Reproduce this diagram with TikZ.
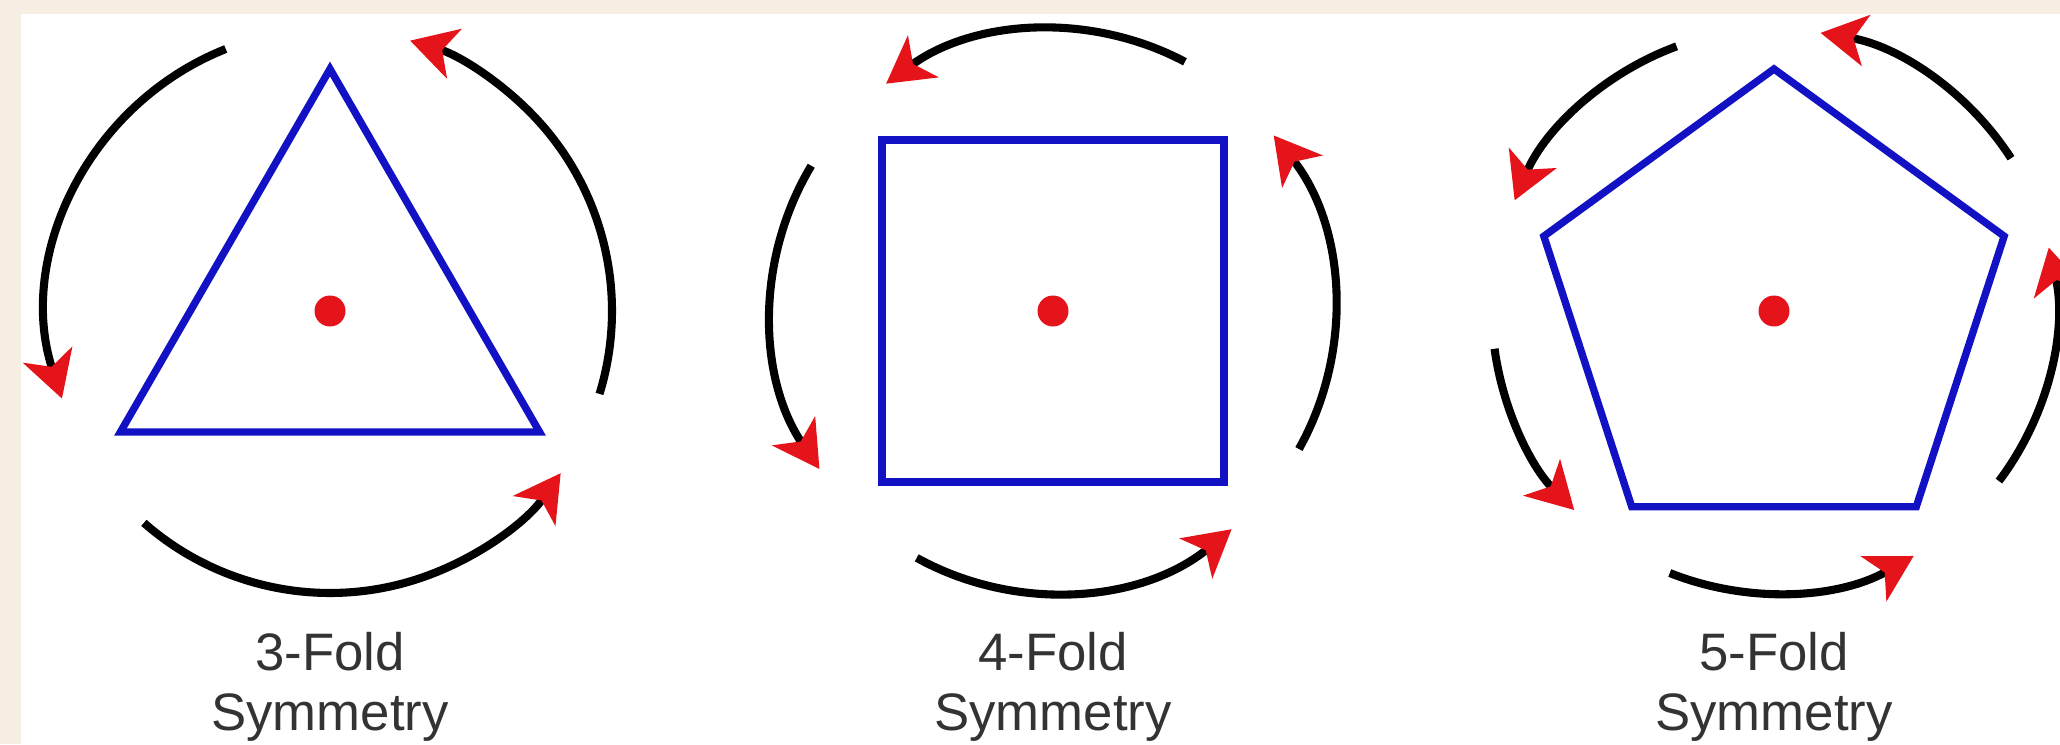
\documentclass[tikz,border=0pt]{standalone}
\usepackage{fontspec}
\setmainfont{Liberation Sans}
\usetikzlibrary{arrows.meta, shapes.geometric}
\definecolor{paper}{HTML}{F8EFE4}
\definecolor{polyblue}{HTML}{1212C4}
\definecolor{tipred}{HTML}{E5141B}
\definecolor{labelgray}{HTML}{333333}

\begin{document}
\begin{tikzpicture}[
  turn/.style={line width=2.3pt, -{Stealth[length=13pt, width=14.5pt, inset=3.5pt, tipred]}},
  poly/.style={regular polygon, draw=polyblue, line width=2.1pt, minimum size=4.84cm, inner sep=0pt},
  hub/.style={circle, fill=tipred, minimum size=0.31cm, inner sep=0pt},
  caption/.style={anchor=north, inner sep=0pt, align=center, text=labelgray, font=\fontsize{15pt}{17pt}\selectfont}]
  % Background and panel
  \clip (0,0) rectangle (20.6,7.44);
  \fill[paper] (0,0) rectangle (20.6,7.44);
  \fill[white] (0.21,0) rectangle (20.6,7.30);

  % Rotation centres
  \coordinate (c3) at (3.30,4.33);
  \coordinate (c4) at (10.53,4.33);
  \coordinate (c5) at (17.74,4.33);

  % 3-fold
  \node[poly, regular polygon sides=3] (tri) at (c3) {};
  \node[hub] (h3) at (c3) {};
  \foreach \s/\e in {111.7/198.1, 228.7/324.9, 342.9/433.5}
    \draw[turn] ([shift={(\s:2.82)}]c3) arc[start angle=\s, end angle=\e, radius=2.82];
  \node[caption] (cap3) at (3.30,1.12) {3-Fold\\Symmetry};

  % 4-fold
  \node[poly, regular polygon sides=4] (sq) at (c4) {};
  \node[hub] (h4) at (c4) {};
  \foreach \s/\e in {62.1/126.3, 149/214.1, 241.1/309.3, 330.7/398.5}
    \draw[turn] ([shift={(\s:2.82)}]c4) arc[start angle=\s, end angle=\e, radius=2.82];
  \node[caption] (cap4) at (10.53,1.12) {4-Fold\\Symmetry};

  % 5-fold
  \node[poly, regular polygon sides=5] (pent) at (c5) {};
  \node[hub] (h5) at (c5) {};
  \foreach \s/\e in {110.2/156.9, 187.7/224.9, 248.3/299.7, 322.9/373, 32.8/80.5}
    \draw[turn] ([shift={(\s:2.82)}]c5) arc[start angle=\s, end angle=\e, radius=2.82];
  \node[caption] (cap5) at (17.74,1.12) {5-Fold\\Symmetry};
\end{tikzpicture}
\end{document}
